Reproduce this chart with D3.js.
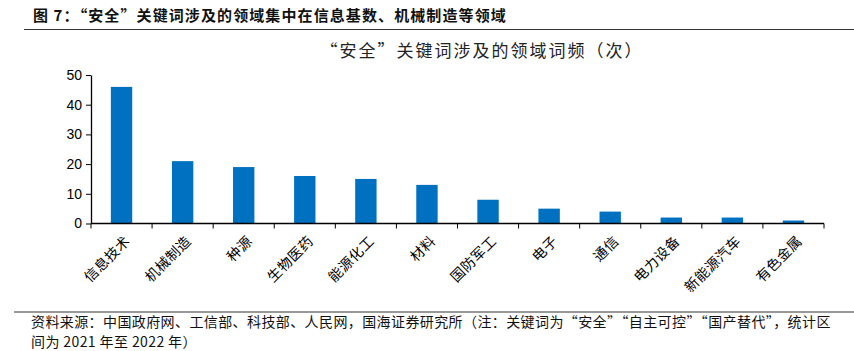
<!DOCTYPE html>
<html>
<head>
<meta charset="utf-8">
<script src="https://cdn.jsdelivr.net/npm/d3@7"></script>
<style>
  body { margin: 0; background: #fff; }
  svg { display: block; }
</style>
</head>
<body>
<svg id="drawing_region"></svg>
<script>
const categories = ['信息技术', '机械制造', '种源', '生物医药', '能源化工', '材料', '国防军工', '电子', '通信', '电力设备', '新能源汽车', '有色金属'];
const counts = [46, 21, 19, 16, 15, 13, 8, 5, 4, 2, 2, 1];
const yTicks = [0, 10, 20, 30, 40, 50];

const figTitle = '图 7：“安全”关键词涉及的领域集中在信息基数、机械制造等领域';
const chartTitle = '“安全”关键词涉及的领域词频（次）';
const sourceLines = [
    '资料来源：中国政府网、工信部、科技部、人民网，国海证券研究所（注：关键词为“安全”“自主可控”“国产替代”，统计区',
    '间为 2021 年至 2022 年）'
];

const cjk = '"Noto Sans CJK SC", sans-serif';
const latin = '"Liberation Sans", Arial, sans-serif';

const svg = d3.select('#drawing_region')
    .attr('width', 854)
    .attr('height', 351);

// header
svg.append('text')
    .attr('x', 33).attr('y', 21)
    .attr('font-family', cjk).attr('font-size', 15).attr('font-weight', 'bold')
    .attr('letter-spacing', 1.1)
    .attr('fill', '#111')
    .text(figTitle);
svg.append('line')
    .attr('x1', 24).attr('x2', 854).attr('y1', 29.5).attr('y2', 29.5)
    .attr('stroke', '#333').attr('stroke-width', 1.2);

// chart
const margin = {top: 75, left: 91, width: 733, height: 148.5};
const chart = svg.append('g')
    .attr('transform', `translate(${margin.left}, ${margin.top})`);

const xscale = d3.scaleBand()
    .domain(categories)
    .range([0, margin.width])
    .paddingInner(0.65)
    .paddingOuter(0.325);

const yscale = d3.scaleLinear()
    .domain([0, 50])
    .range([margin.height, 0]);

svg.append('text')
    .attr('x', 482).attr('y', 57)
    .attr('text-anchor', 'middle')
    .attr('font-family', cjk).attr('font-size', 17)
    .attr('letter-spacing', 2)
    .attr('fill', '#222')
    .text(chartTitle);

chart.selectAll('rect')
    .data(counts)
    .join('rect')
    .attr('x', (d, i) => xscale(categories[i]))
    .attr('y', d => yscale(d))
    .attr('width', xscale.bandwidth())
    .attr('height', d => yscale(0) - yscale(d))
    .attr('fill', '#0070C0');

// y axis
const yaxis = d3.axisLeft(yscale)
    .tickValues(yTicks)
    .tickSize(5)
    .tickSizeOuter(0);
const yg = chart.append('g').call(yaxis);
yg.select('.domain').attr('stroke', '#000').attr('stroke-width', 1.3);
yg.selectAll('.tick line').attr('stroke', '#000');
yg.selectAll('.tick text')
    .attr('font-family', latin).attr('font-size', 14)
    .attr('fill', '#000').attr('x', -9);

// x axis: ticks at category boundaries
const boundaries = d3.range(categories.length + 1).map(i => i * xscale.step());
const xg = chart.append('g')
    .attr('transform', `translate(0, ${margin.height})`);
xg.append('line')
    .attr('x1', 0).attr('x2', margin.width)
    .attr('stroke', '#000').attr('stroke-width', 1.3);
xg.selectAll('line.tk')
    .data(boundaries)
    .join('line')
    .attr('class', 'tk')
    .attr('x1', d => d).attr('x2', d => d)
    .attr('y1', 0).attr('y2', 5)
    .attr('stroke', '#000');
xg.selectAll('text')
    .data(categories)
    .join('text')
    .attr('transform', d => `translate(${xscale(d) + xscale.bandwidth() / 2 + 6}, 15) rotate(-45)`)
    .attr('text-anchor', 'end')
    .attr('dy', '0.35em')
    .attr('font-family', cjk).attr('font-size', 14)
    .attr('letter-spacing', 0.5)
    .attr('fill', '#000')
    .text(d => d);

// footer
svg.append('line')
    .attr('x1', 14).attr('x2', 854).attr('y1', 312).attr('y2', 312)
    .attr('stroke', '#333').attr('stroke-width', 1.2);
svg.selectAll('text.src')
    .data(sourceLines)
    .join('text')
    .attr('class', 'src')
    .attr('x', 31)
    .attr('y', (d, i) => 327 + i * 20)
    .attr('font-family', cjk).attr('font-size', 14)
    .attr('letter-spacing', 0.4)
    .attr('fill', '#111')
    .text(d => d);
</script>
</body>
</html>
